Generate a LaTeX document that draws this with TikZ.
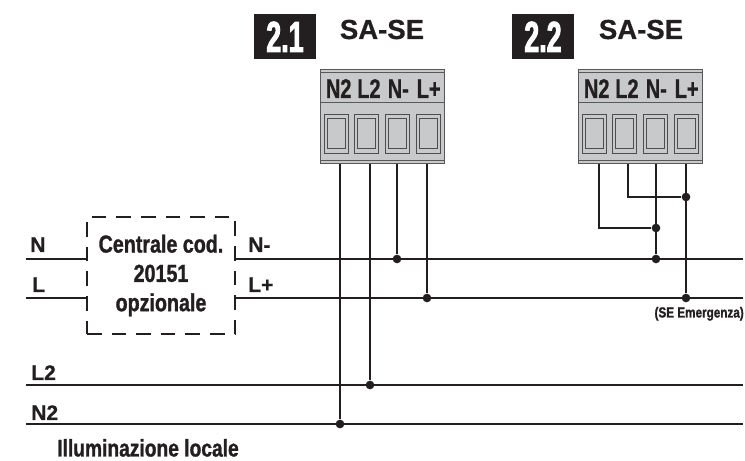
\documentclass[tikz,border=0pt]{standalone}
\usepackage{fontspec}
\setmainfont{Liberation Sans}[BoldFont=* Bold, BoldFeatures={FakeBold=0.6}]
\newfontfamily\narrowfont{Liberation Sans Bold}[FakeStretch=0.8, FakeBold=1.2]
\newfontfamily\pinfont{Liberation Sans Bold}[FakeStretch=0.74, FakeBold=0.8]
\newfontfamily\badgefont{Liberation Sans Bold}[FakeStretch=0.62, FakeBold=2]
\usetikzlibrary{positioning, calc}

\definecolor{ink}{HTML}{231F20}
\definecolor{metal}{HTML}{C8C9CA}

\begin{document}
\begin{tikzpicture}[
    x=0.03cm, y=-0.03cm,
    wire/.style={draw=ink, line width=2.1pt},
    dot/.style={circle, fill=ink, inner sep=0pt, minimum size=0.26cm},
    head/.style={rectangle, draw=ink!75, fill=metal, line width=0.8pt, minimum width=3.72cm, minimum height=0.99cm, inner sep=0pt},
    base/.style={rectangle, draw=ink!75, fill=metal, line width=0.8pt, minimum width=3.72cm, minimum height=1.83cm, inner sep=0pt},
    slot/.style={rectangle, draw=ink!80, line width=0.6pt, minimum width=0.72cm, minimum height=1.17cm, inner sep=0pt},
    slotin/.style={rectangle, draw=ink!80, line width=0.6pt, minimum width=0.54cm, minimum height=0.9cm, inner sep=0pt},
    badge/.style={rectangle, fill=ink, text=white, minimum width=1.86cm, minimum height=1.35cm, inner sep=0pt, font=\badgefont\fontsize{37}{37}\selectfont},
    title/.style={text=ink, inner sep=0pt, anchor=base, font=\bfseries\fontsize{23.5}{24}\selectfont},
    pin/.style={text=ink, inner sep=0pt, anchor=base, font=\pinfont\fontsize{23}{23}\selectfont},
    bus/.style={text=ink, inner sep=0pt, anchor=base west, font=\bfseries\fontsize{18}{18}\selectfont},
    ]
   \useasboundingbox (0,0) rectangle (745,461);

   % Terminal blocks.
   \foreach \b/\x/\n in {a/382/1, b/640/2} {
      \node[head] (head_\b) at (\x,85.5) {};
      \node[base, below=0cm of head_\b] (base_\b) {};
      \draw[ink!75, line width=0.6pt] (head_\b.north west) ++(0,3.5) -- ++(124,0);
      \draw[ink!75, line width=0.6pt] (base_\b.south west) ++(0,-4) -- ++(124,0);
      \node[slot, right=0.13cm of base_\b.west] (n2_\b) {};
      \node[slot, right=0.15cm of n2_\b] (l2_\b) {};
      \node[slot, right=0.2cm of l2_\b] (nm_\b) {};
      \node[slot, right=0.2cm of nm_\b] (lp_\b) {};
      \foreach \s in {n2, l2, nm, lp}
         \node[slotin] (\s_in_\b) at (\s_\b) {};
      \node[pin] (n2_lab_\b) at ($(n2_\b |- head_\b)+(2.5,12.5)$) {N2};
      \node[pin] (l2_lab_\b) at ($(l2_\b |- head_\b)+(3,12.5)$) {L2};
      \node[pin] (nm_lab_\b) at ($(nm_\b |- head_\b)+(1,12.5)$) {N-};
      \node[pin] (lp_lab_\b) at ($(lp_\b |- head_\b)+(0,12.5)$) {L+};
      \node[badge, above left=0.27cm and 0.1cm of head_\b.north west] (badge_\b) {2.\n};
   }
   \node[title] (title_a) at (382,39) {SA-SE};
   \node[title] (title_b) at (641,39) {SA-SE};

   % Optional unit.
   \node[draw=ink, dashed, line width=1.4pt, dash pattern=on 12.5pt off 8.5pt, minimum width=4.44cm, minimum height=3.51cm, align=center, text=ink, font=\narrowfont\fontsize{21}{25}\selectfont] (central) at (161,275.5) {Centrale cod.\\20151\\opzionale};

   % Bus ends.
   \coordinate (n_in) at (26,259);
   \coordinate (l_in) at (26,298);
   \coordinate (n_end) at (743,259);
   \coordinate (l_end) at (743,298);
   \coordinate (l2_in) at (26,385);
   \coordinate (l2_end) at (743,385);
   \coordinate (n2_in) at (26,424);
   \coordinate (n2_end) at (743,424);

   \draw[wire] (n_in) -- (central.west |- n_in);
   \draw[wire] (l_in) -- (central.west |- l_in);
   \draw[wire] (central.east |- n_end) -- (n_end);
   \draw[wire] (central.east |- l_end) -- (l_end);
   \draw[wire] (l2_in) -- (l2_end);
   \draw[wire] (n2_in) -- (n2_end);

   % 2.1 wiring.
   \node[dot] (j_n2_a) at (340,424) {};
   \node[dot] (j_l2_a) at (370,385) {};
   \node[dot] (j_nm_a) at (397,259) {};
   \node[dot] (j_lp_a) at (427,298) {};
   \foreach \s in {n2, l2, nm, lp}
      \draw[wire] (base_a.south -| j_\s_a) -- (j_\s_a);

   % 2.2 wiring.
   \node[dot] (j_nm_b) at (656,259) {};
   \node[dot] (j_lp_b) at (686,298) {};
   \node[dot] (j_n2_b) at (656,228) {};
   \node[dot] (j_l2_b) at (686,197) {};
   \coordinate (c_n2) at (599,228);
   \coordinate (c_l2) at (628,197);
   \draw[wire] (base_b.south -| j_nm_b) -- (j_nm_b);
   \draw[wire] (base_b.south -| j_lp_b) -- (j_lp_b);
   \draw[wire] (base_b.south -| c_n2) -- (c_n2) -- (j_n2_b);
   \draw[wire] (base_b.south -| c_l2) -- (c_l2) -- (j_l2_b);

   % Labels.
   \node[bus] (n_lab) at (30,252) {N};
   \node[bus] (l_lab) at (32,292) {L};
   \node[bus] (nm_lab) at (248,252) {N-};
   \node[bus] (lp_lab) at (248,292) {L+};
   \node[bus] (l2_lab) at (31,380) {L2};
   \node[bus] (n2_lab) at (31,420) {N2};
   \node[text=ink, inner sep=0pt, anchor=base west, font=\narrowfont\fontsize{20.5}{21}\selectfont] (local) at (57,456.5) {Illuminazione locale};
   \node[text=ink, inner sep=0pt, anchor=base east, font=\narrowfont\fontsize{12.5}{13}\selectfont] (emerg) at (744,317.5) {(SE Emergenza)};
\end{tikzpicture}
\end{document}
